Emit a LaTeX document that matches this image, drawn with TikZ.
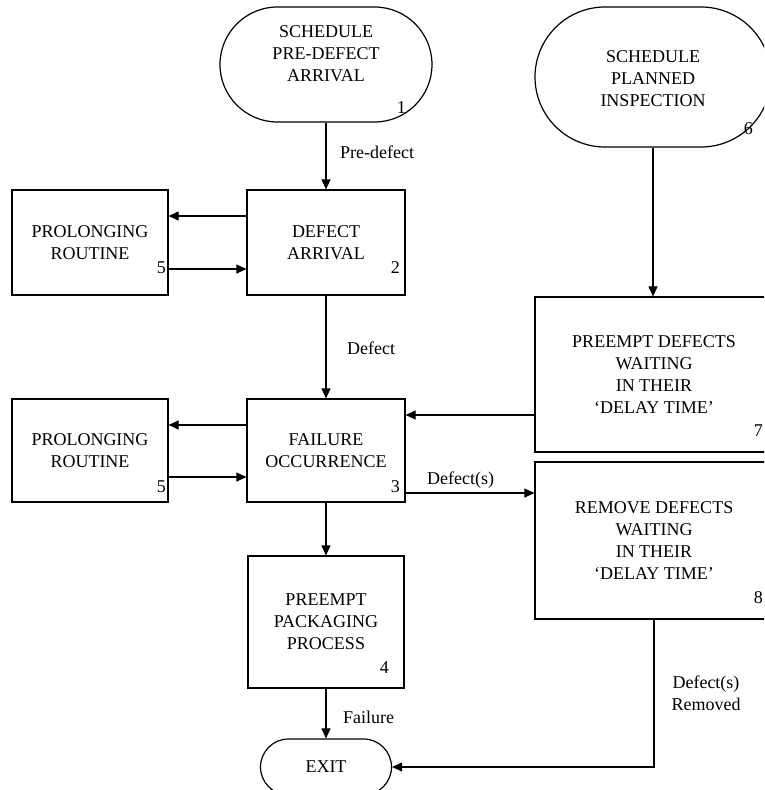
\documentclass[tikz,border=0pt]{standalone}
\usepackage{fontspec}
\setmainfont{Liberation Serif}
\usetikzlibrary{shapes.misc,arrows.meta}
\begin{document}
\begin{tikzpicture}[x=1pt,y=-1pt,
  every node/.style={font=\fontsize{18}{22}\selectfont},
  box/.style={draw,line width=1.2pt,align=center,inner sep=0pt},
  term/.style={draw,line width=1.2pt,rounded rectangle,inner sep=0pt},
  txt/.style={align=center,inner sep=0pt},
  num/.style={anchor=base east,inner sep=0pt},
  lab/.style={anchor=west,inner sep=0pt,align=center},
  arr/.style={line width=1.1pt,-{Triangle[length=10pt,width=9pt]}},
  ln/.style={line width=1.1pt}]
\useasboundingbox (0,0) rectangle (764,790);
\clip (0,0) rectangle (764,790);

% terminals
\node[term,minimum width=212pt,minimum height=115pt] (n1) at (326,64.5) {};
\node[txt] (t1) at (326,53.5) {SCHEDULE\\PRE-DEFECT\\ARRIVAL};
\node[num] (k1) at (406,113) {1};

\node[term,minimum width=236pt,minimum height=140pt] (n6) at (653,77) {};
\node[txt] (t6) at (653,78.5) {SCHEDULE\\PLANNED\\INSPECTION};
\node[num] (k6) at (753,134) {6};

\node[term,minimum width=131pt,minimum height=56pt] (ex) at (326,767) {EXIT};

% boxes
\node[box,minimum width=158pt,minimum height=105pt] (b2) at (326,242.5) {DEFECT\\ARRIVAL};
\node[num] (k2) at (400,273) {2};
\node[box,minimum width=156pt,minimum height=105pt] (b5a) at (90,242.5) {PROLONGING\\ROUTINE};
\node[num] (k5a) at (166,273) {5};

\node[box,minimum width=158pt,minimum height=103pt] (b3) at (326,450.5) {FAILURE\\OCCURRENCE};
\node[num] (k3) at (400,492) {3};
\node[box,minimum width=156pt,minimum height=103pt] (b5b) at (90,450.5) {PROLONGING\\ROUTINE};
\node[num] (k5b) at (166,492) {5};

\node[box,minimum width=156pt,minimum height=132pt] (b4) at (326,622) {PREEMPT\\PACKAGING\\PROCESS};
\node[num] (k4) at (389,673) {4};

\node[box,minimum width=238pt,minimum height=155pt] (b7) at (654,374.5) {PREEMPT DEFECTS\\WAITING\\IN THEIR\\‘DELAY TIME’};
\node[num] (k7) at (763,436) {7};
\node[box,minimum width=238pt,minimum height=157pt] (b8) at (654,540.5) {REMOVE DEFECTS\\WAITING\\IN THEIR\\‘DELAY TIME’};
\node[num] (k8) at (763,603) {8};

% connectors
\draw[arr] (n1.south) -- (b2.north);
\node[lab] (l1) at (340,152) {Pre-defect};
\draw[arr] (n6.south) -- (n6.south |- b7.north);

\draw[arr] (b2.west |- 0,216) -- (b5a.east |- 0,216);
\draw[arr] (b5a.east |- 0,269) -- (b2.west |- 0,269);

\draw[arr] (b2.south) -- (b3.north);
\node[lab] (l2) at (347,348) {Defect};

\draw[arr] (b3.west |- 0,425) -- (b5b.east |- 0,425);
\draw[arr] (b5b.east |- 0,477) -- (b3.west |- 0,477);

\draw[arr] (b7.west |- 0,415) -- (b3.east |- 0,415);
\draw[arr] (b3.east |- 0,493) -- (b8.west |- 0,493);
\node[lab] (l3) at (427,480) {Defect(s)};

\draw[arr] (b3.south) -- (b4.north);
\draw[arr] (b4.south) -- (ex.north);
\node[lab] (l4) at (343,717) {Failure};

\draw[arr] (b8.south) |- (ex.east);
\node[txt] (l5) at (706,693) {Defect(s)\\Removed};
\end{tikzpicture}
\end{document}
